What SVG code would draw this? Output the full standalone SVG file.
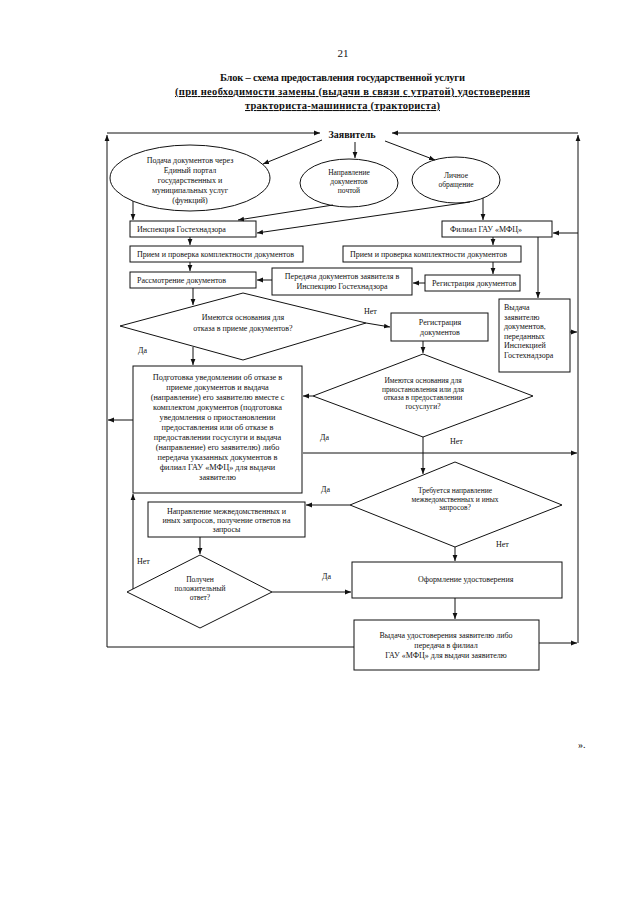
<svg xmlns="http://www.w3.org/2000/svg" width="640" height="905" viewBox="0 0 640 905">
<style>
.bg{fill:#fff}
.box{fill:#fff;stroke:#111;stroke-width:1}
.t{font-family:"Liberation Serif","Times New Roman",serif;font-size:8px;fill:#111}
.s{font-size:7.5px}
.c{text-anchor:middle}
.h{font-family:"Liberation Serif","Times New Roman",serif;font-size:10.5px;font-weight:bold;fill:#111;text-anchor:middle}
.ln{stroke:#111;stroke-width:1;fill:none}
.ar{stroke:#111;stroke-width:1;fill:none;marker-end:url(#a)}
</style>
<defs>
<marker id="a" viewBox="0 0 10 10" refX="10" refY="5" markerWidth="6" markerHeight="6" orient="auto" markerUnits="userSpaceOnUse"><path d="M0,1 L10,5 L0,9 z" fill="#111"/></marker>
</defs>
<rect class="bg" x="0" y="0" width="640" height="905"/>
<g id="header">
<text x="343" y="57" class="t c" style="font-size:11px">21</text>
<text x="342.5" y="81" class="h" textLength="245">Блок – схема предоставления государственной услуги</text>
<text x="352.5" y="95" class="h" textLength="355" style="text-decoration:underline">(при необходимости замены (выдачи в связи с утратой) удостоверения</text>
<text x="342.5" y="109" class="h" textLength="195" style="text-decoration:underline">тракториста-машиниста (тракториста)</text>
<text x="578" y="748" class="t" style="font-size:10px">».</text>
</g>
<g id="applicant"><text x="352" y="138" class="h" style="font-size:10px">Заявитель</text></g>
<g id="portal">
<ellipse class="box" cx="190" cy="178" rx="80" ry="33"/>
<text class="t c"><tspan x="190" y="163">Подача документов через</tspan><tspan x="190" y="173">Единый портал</tspan><tspan x="190" y="183">государственных и</tspan><tspan x="190" y="193">муниципальных услуг</tspan><tspan x="190" y="203">(функций)</tspan></text>
</g>
<g id="post">
<ellipse class="box" cx="349" cy="183" rx="49" ry="24"/>
<text class="t c s"><tspan x="349" y="175">Направление</tspan><tspan x="349" y="184">документов</tspan><tspan x="349" y="193">почтой</tspan></text>
</g>
<g id="personal">
<ellipse class="box" cx="456" cy="180" rx="44" ry="23"/>
<text class="t c s"><tspan x="456" y="178">Личное</tspan><tspan x="456" y="187">обращение</tspan></text>
</g>
<g id="inspection"><rect class="box" x="130" y="221" width="126" height="16"/><text class="t" x="137" y="232">Инспекция Гостехнадзора</text></g>
<g id="mfc"><rect class="box" x="442" y="221" width="110" height="16"/><text class="t" x="450" y="232">Филиал ГАУ «МФЦ»</text></g>
<g id="accept1"><rect class="box" x="130" y="246" width="173" height="16"/><text class="t" x="137" y="257">Прием и проверка комплектности документов</text></g>
<g id="accept2"><rect class="box" x="343" y="246" width="178" height="16"/><text class="t" x="350" y="257">Прием и проверка комплектности документов</text></g>
<g id="review"><rect class="box" x="130" y="272" width="126" height="16"/><text class="t" x="137" y="283">Рассмотрение документов</text></g>
<g id="transfer"><rect class="box" x="272" y="268" width="140" height="27"/><text class="t c"><tspan x="342" y="279">Передача документов заявителя в</tspan><tspan x="342" y="289">Инспекцию Гостехнадзора</tspan></text></g>
<g id="register1"><rect class="box" x="425" y="275" width="95" height="16"/><text class="t" x="432" y="286">Регистрация документов</text></g>
<g id="issue-docs"><rect class="box" x="499" y="299" width="71" height="73"/><text class="t"><tspan x="504" y="310">Выдача</tspan><tspan x="504" y="319.5">заявителю</tspan><tspan x="504" y="329">документов,</tspan><tspan x="504" y="338.5">переданных</tspan><tspan x="504" y="348">Инспекцией</tspan><tspan x="504" y="357.5">Гостехнадзора</tspan></text></g>
<g id="decision1"><polygon class="box" points="243,293 366,323 243,360 120,326"/><text class="t c"><tspan x="243" y="320">Имеются основания для</tspan><tspan x="243" y="331">отказа в приеме документов?</tspan></text></g>
<g id="register2"><rect class="box" x="391" y="313" width="97" height="28"/><text class="t c"><tspan x="440" y="325">Регистрация</tspan><tspan x="440" y="335">документов</tspan></text></g>
<g id="refusal"><rect class="box" x="133" y="366" width="169" height="127"/><text class="t c" style="font-size:8.3px"><tspan x="217.5" y="380">Подготовка уведомлении об отказе в</tspan><tspan x="217.5" y="390">приеме документов и выдача</tspan><tspan x="217.5" y="400">(направление) его заявителю вместе с</tspan><tspan x="217.5" y="410">комплектом документов (подготовка</tspan><tspan x="217.5" y="420">уведомления о приостановлении</tspan><tspan x="217.5" y="430">предоставления или об отказе в</tspan><tspan x="217.5" y="440">предоставлении госуслуги и выдача</tspan><tspan x="217.5" y="450">(направление) его заявителю) либо</tspan><tspan x="217.5" y="460">передача указанных документов в</tspan><tspan x="217.5" y="470">филиал ГАУ «МФЦ» для выдачи</tspan><tspan x="217.5" y="480">заявителю</tspan></text></g>
<g id="decision2"><polygon class="box" points="423,354 533,396 423,437 313,396"/><text class="t c s"><tspan x="423" y="383">Имеются основания для</tspan><tspan x="423" y="391.5">приостановления  или для</tspan><tspan x="423" y="400">отказа в предоставлении</tspan><tspan x="423" y="408.5">госуслуги?</tspan></text></g>
<g id="decision3"><polygon class="box" points="455,462 562,505 455,547 350,505"/><text class="t c s"><tspan x="455" y="493">Требуется направление</tspan><tspan x="455" y="501.5">межведомственных и иных</tspan><tspan x="455" y="510">запросов?</tspan></text></g>
<g id="requests"><rect class="box" x="148" y="502" width="157" height="35"/><text class="t c"><tspan x="226.5" y="514">Направление межведомственных и</tspan><tspan x="226.5" y="523">иных запросов, получение ответов на</tspan><tspan x="226.5" y="532">запросы</tspan></text></g>
<g id="decision4"><polygon class="box" points="200,555 272,592 200,628 127,592"/><text class="t c s"><tspan x="200" y="582">Получен</tspan><tspan x="200" y="591">положительный</tspan><tspan x="200" y="600">ответ?</tspan></text></g>
<g id="formalize"><rect class="box" x="352" y="562" width="210" height="36"/><text class="t" x="418" y="582">Оформление удостоверения</text></g>
<g id="issue"><rect class="box" x="354" y="620" width="185" height="50"/><text class="t c"><tspan x="446" y="638">Выдача удостоверения заявителю либо</tspan><tspan x="446" y="648">передача в филиал</tspan><tspan x="446" y="658">ГАУ «МФЦ» для выдачи заявителю</tspan></text></g>
<g id="connectors">
<path class="ar" d="M322,140 L263,164"/>
<path class="ar" d="M355,142 L355,158"/>
<path class="ar" d="M385,141 L435,160"/>
<path class="ar" d="M133,201 L133,220"/>
<path class="ar" d="M333,205 L238,220"/>
<path class="ar" d="M470,202 L257,233"/>
<path class="ar" d="M483,198 L483,220"/>
<path class="ar" d="M190,237 L190,245"/>
<path class="ar" d="M190,262 L190,271"/>
<path class="ar" d="M493,237 L493,245"/>
<path class="ar" d="M493,262 L493,274"/>
<path class="ar" d="M425,283 L413,283"/>
<path class="ar" d="M272,280 L257,280"/>
<path class="ar" d="M538,237 L538,298"/>
<path class="ar" d="M570,332 L577,332"/>
<path class="ar" d="M193,288 L193,305"/>
<path class="ar" d="M366,323 L390,327"/>
<path class="ar" d="M193,347 L193,365"/>
<path class="ar" d="M423,341 L423,353"/>
<path class="ar" d="M313,396 L303,396"/>
<path class="ar" d="M423,437 L423,474"/>
<path class="ar" d="M303,453 L577,453"/>
<path class="ar" d="M350,505 L306,505"/>
<path class="ar" d="M455,547 L455,561"/>
<path class="ar" d="M200,537 L200,554"/>
<path class="ar" d="M133,589 L133,494"/>
<path class="ar" d="M272,592 L351,592"/>
<path class="ar" d="M455,598 L455,619"/>
<path class="ar" d="M539,643 L577,643"/>
<path class="ar" d="M578,643 L578,135"/>
<path class="ar" d="M578,133 L392,133"/>
<path class="ar" d="M578,233 L553,233"/>
<path class="ar" d="M133,420 L108,420"/>
<path class="ln" d="M354,647 L107,647"/>
<path class="ar" d="M107,647 L107,135"/>
<path class="ar" d="M107,133 L320,133"/>
<text class="t" x="364" y="314">Нет</text>
<text class="t" x="138" y="353">Да</text>
<text class="t" x="320" y="440">Да</text>
<text class="t" x="450" y="444">Нет</text>
<text class="t" x="321" y="492">Да</text>
<text class="t" x="496" y="547">Нет</text>
<text class="t" x="137" y="564">Нет</text>
<text class="t" x="322" y="579">Да</text>
</g>
</svg>
